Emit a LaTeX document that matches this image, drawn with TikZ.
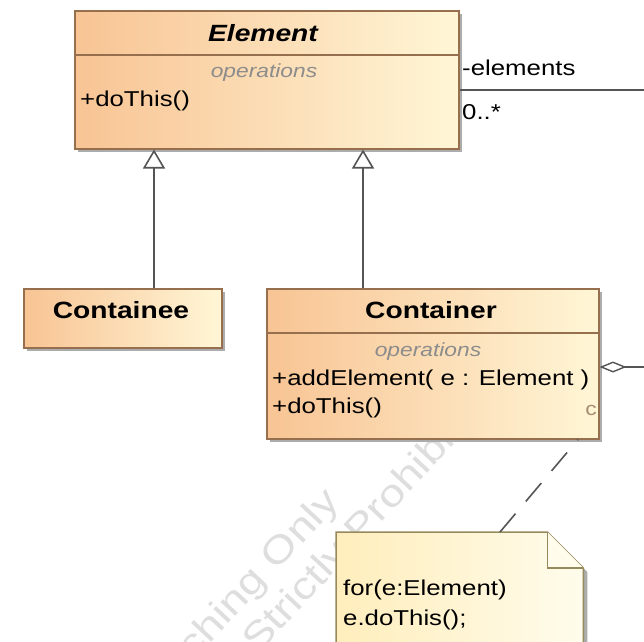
\documentclass[tikz,border=0pt]{standalone}
\usepackage{fontspec}
\setmainfont{Liberation Sans}[FakeStretch=1.2]
\usetikzlibrary{arrows.meta,calc}
\definecolor{orL}{RGB}{248,196,148}
\definecolor{orR}{RGB}{255,246,214}
\definecolor{brd}{RGB}{150,112,78}
\definecolor{ln}{RGB}{85,85,85}
\definecolor{opgray}{RGB}{140,140,140}
\definecolor{wm}{RGB}{222,222,222}
\definecolor{noteL}{RGB}{255,238,188}
\definecolor{noteR}{RGB}{255,252,236}
\definecolor{notebrd}{RGB}{150,138,92}
\definecolor{shd}{RGB}{172,172,172}
\definecolor{cmark}{RGB}{165,140,115}
\begin{document}
\begin{tikzpicture}[x=1pt,y=-1pt,
  classbox/.style={draw=brd, line width=1.5pt, left color=orL, right color=orR, inner sep=0pt, anchor=north west},
  clsname/.style={font=\fontsize{23.5}{28}\selectfont\bfseries, inner sep=0pt},
  ops/.style={font=\fontsize{19}{23}\selectfont\itshape, text=opgray, inner sep=0pt},
  member/.style={font=\fontsize{21.5}{26}\selectfont, inner sep=0pt, anchor=west},
  wmark/.style={font=\fontsize{38}{44}\selectfont, text=wm, inner sep=0pt, rotate=47},
  link/.style={draw=ln, line width=1.8pt},
  gen/.style={link, -{Triangle[fill=white, length=19pt, width=22pt, line width=1.6pt]}},
  agg/.style={link, {Diamond[fill=white, length=27pt, width=11pt, line width=1.4pt]}-},
  notelink/.style={link, line width=1.6pt, dash pattern=on 24pt off 16pt},
  sepline/.style={draw=brd, line width=1.3pt}
]
\useasboundingbox (0,0) rectangle (644,641);
\clip (0,0) rectangle (644,641);
\fill[white] (0,0) rectangle (644,641);

% watermark
\node[wmark, anchor=base east] (wm1) at (341,503) {Teaching Only};
\node[wmark, anchor=base west] (wm2) at (258,655) {Strictly Prohibited};

% helper coordinates
\coordinate (ga) at (154,0);
\coordinate (gb) at (363,0);
\coordinate (ay) at (0,90);
\coordinate (aend) at (660,90);
\coordinate (dy) at (0,367);
\coordinate (dend) at (660,367);
\coordinate (nx) at (500,0);
\coordinate (cx) at (578,0);

% Element
\fill[shd] (78,14) rectangle (462,152);
\node[classbox, minimum width=384pt, minimum height=138pt] (element) at (74,10) {};
\draw[sepline] (74,55) -- (458,55);
\node[clsname, font=\fontsize{23.5}{28}\selectfont\bfseries\itshape] (elname) at (263,33) {Element};
\node[ops] (elops) at (264,73) {operations};
\node[member] (eldo) at (80,101) {+doThis()};

% Containee
\fill[shd] (27,292) rectangle (225,351);
\node[classbox, minimum width=198pt, minimum height=59pt] (containee) at (23,288) {};
\node[clsname] (cename) at (121,310) {Containee};

% Container
\fill[shd] (270,292) rectangle (602,442);
\node[classbox, minimum width=332pt, minimum height=150pt] (container) at (266,288) {};
\draw[sepline] (266,333) -- (598,333);
\node[clsname] (coname) at (431,310) {Container};
\node[ops] (coops) at (428,352) {operations};
\node[member] (coadd) at (272,380) {+addElement( e : Element )};
\node[member] (codo) at (272,408) {+doThis()};
\node[font=\fontsize{19}{22}\selectfont, text=cmark, inner sep=0pt] (cmk) at (591,410) {c};

% generalizations
\draw[gen] (containee.north -| ga) -- (element.south -| ga);
\draw[gen] (container.north -| gb) -- (element.south -| gb);

% association
\draw[link] (element.east |- ay) -- (aend);
\node[member] (rolename) at (462,68) {-elements};
\node[member] (mult) at (462,112) {0..*};
\draw[agg] (container.east |- dy) -- (dend);

% note
\node[anchor=north west, minimum width=247pt, minimum height=140pt, inner sep=0pt] (note) at (336,532) {};
\fill[shd] ($(note.north west)+(4,4)$) -- ($(note.north east)+(-32,4)$) -- ($(note.north east)+(4,40)$) -- ($(note.south east)+(4,4)$) -- ($(note.south west)+(4,4)$) -- cycle;
\draw[notebrd, line width=1.5pt, left color=noteL, right color=noteR] (note.north west) -- ($(note.north east)+(-36,0)$) -- ($(note.north east)+(0,36)$) -- (note.south east) -- (note.south west) -- cycle;
\draw[notebrd, line width=1.5pt, fill=noteR] ($(note.north east)+(-36,0)$) -- ($(note.north east)+(-36,36)$) -- ($(note.north east)+(0,36)$);
\node[member] (n1) at (343,590) {for(e:Element)};
\node[member] (n2) at (343,620) {e.doThis();};
\draw[notelink] (note.north -| nx) -- (container.south -| cx);
\end{tikzpicture}
\end{document}
